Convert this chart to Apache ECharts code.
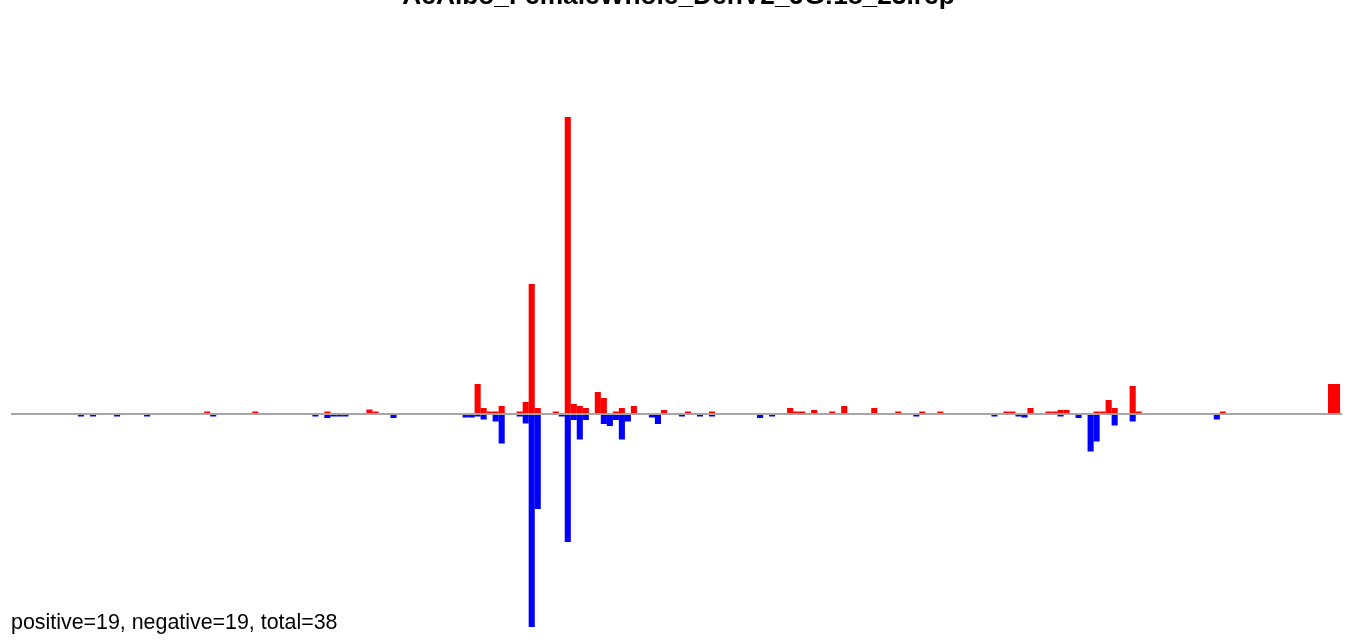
<!DOCTYPE html>
<html>
<head>
<meta charset="utf-8">
<script src="https://cdn.jsdelivr.net/npm/echarts@6/dist/echarts.min.js"></script>
<style>html,body{margin:0;padding:0;background:#fff}#c{width:1357px;height:641px}</style>
</head>
<body>
<div id="c"></div>
<script>
const titleText = "AeAlbo_FemaleWhole_DenV2_JG:18_23.rep";
const footerText = "positive=19, negative=19, total=38";
const bins = [0,2,6,11,21,22,29,39,41,42,43,44,48,49,52,64,65,66,67,68,69,70,73,74,75,76,79,80,81,82,83,84,86,87,88,89,90,91,92,95,96,97,100,101,103,105,113,115,118,119,120,122,125,127,132,136,139,140,143,152,154,155,156,157,158,161,162,163,164,166,168,169,170,171,172,175,176,189,190,208,209];
const posVals = [0,0,0,0,2.5,0,2.5,0,2.5,0,0,0,4.5,2.5,0,0,0,30,6,2.5,2.5,8,2.5,12,130,6,2.5,0,297,10,8,6,22,16,0,2.5,6,0,8,0,0,4,0,2.5,0,2.5,0,0,6,2.5,2.5,4,2.5,8,6,2.5,0,2.5,2.5,0,2.5,2.5,0,0,6,2.5,2.5,4,4,0,0,2.5,2.5,14,6,28,2.5,0,2.5,30,30];
const negVals = [-2.5,-2.5,-2.5,-2.5,0,-2.5,0,-2.5,-4,-2.5,-2.5,-2.5,0,0,-4,-3.5,-3.5,-2.5,-5.5,0,-7.5,-29.5,-2.5,-9.5,-213,-95,0,-2.5,-128,-6,-25.5,-6,0,-10,-12,-6,-25.5,-7.5,0,-3.5,-10,0,-2.5,0,-2.5,-2.5,-4,-2.5,0,0,0,0,0,0,0,0,-2.5,0,0,-2.5,0,0,-2.5,-3.5,0,0,0,-2.5,0,-4,-37.5,-27.5,0,0,-11.5,-7.5,0,-5.5,0,0,0];

const posData = bins.map((b,i)=>[b+0.5, posVals[i]]).filter(d=>d[1]!==0);
const negData = bins.map((b,i)=>[b+0.5, negVals[i]]).filter(d=>d[1]!==0);

const chart = echarts.init(document.getElementById('c'), null, {renderer:'canvas'});
chart.setOption({
  animation:false,
  backgroundColor:'#ffffff',
  title:[
    {text:titleText, left:'center', top:-21, textStyle:{fontFamily:'Liberation Sans, Arial, sans-serif', fontWeight:'bold', fontSize:26.3, color:'#000'}},
    {text:footerText, left:6, top:608, textStyle:{fontFamily:'Liberation Sans, Arial, sans-serif', fontWeight:'normal', fontSize:21.4, color:'#000'}}
  ],
  grid:{left:11, right:15, top:117, bottom:14, containLabel:false},
  xAxis:{type:'value', min:-11.149, max:210.33, show:false},
  yAxis:{type:'value', min:-213, max:297, show:false},
  series:[
    {type:'bar', data:posData, barWidth:6.1, barGap:'-100%', itemStyle:{color:'#ff0000'}, z:2,
     markLine:{silent:true, symbol:['none','none'], label:{show:false}, lineStyle:{color:'#a6a6a6', width:2, type:'solid'}, data:[{yAxis:0}], z:5}},
    {type:'bar', data:negData, barWidth:6.1, barGap:'-100%', itemStyle:{color:'#0000ff'}, z:2}
  ]
});
</script>
</body>
</html>
